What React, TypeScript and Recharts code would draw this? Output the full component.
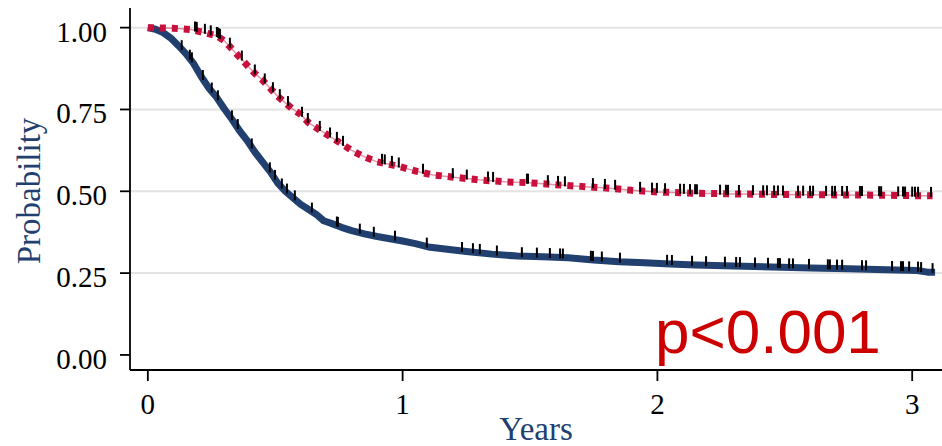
import {
  ComposedChart,
  Line,
  Scatter,
  XAxis,
  YAxis,
  ReferenceLine,
} from "recharts";

// survival estimates (time in years)
const navyTimes = [
  0, 0.03, 0.06, 0.09, 0.12, 0.15, 0.18, 0.21, 0.24, 0.27, 0.3, 0.33, 0.36, 0.39,
  0.42, 0.45, 0.48, 0.51, 0.54, 0.57, 0.6, 0.63, 0.66, 0.69, 0.72, 0.76, 0.8, 0.85,
  0.9, 0.95, 1.0, 1.05, 1.1, 1.15, 1.25, 1.35, 1.45, 1.55, 1.65, 1.75, 1.85, 1.95,
  2.05, 2.15, 2.3, 2.45, 2.6, 2.75, 2.9, 3.02, 3.06, 3.09,
];
const navySurv = [
  1.0, 0.995, 0.985, 0.968, 0.945, 0.92, 0.89, 0.85, 0.815, 0.787, 0.752, 0.72, 0.685,
  0.655, 0.62, 0.59, 0.56, 0.525, 0.5, 0.48, 0.46, 0.445, 0.43, 0.41, 0.402, 0.39,
  0.38, 0.37, 0.362, 0.355, 0.348, 0.34, 0.33, 0.325, 0.316, 0.308, 0.302, 0.3,
  0.297, 0.29, 0.285, 0.282, 0.278, 0.275, 0.272, 0.269, 0.266, 0.263, 0.26, 0.258,
  0.253, 0.253,
];

const redTimes = [
  0, 0.1, 0.17, 0.22, 0.27, 0.3, 0.33, 0.36, 0.39, 0.42, 0.45, 0.48, 0.51, 0.54,
  0.57, 0.6, 0.63, 0.66, 0.69, 0.72, 0.76, 0.8, 0.85, 0.9, 0.95, 1.0, 1.06, 1.12,
  1.2, 1.3, 1.4, 1.5, 1.6, 1.7, 1.8, 1.9, 2.0, 2.15, 2.3, 2.5, 2.7, 2.9, 3.05, 3.08,
];
const redSurv = [
  1.0, 0.998, 0.994, 0.985, 0.975, 0.96, 0.935, 0.91, 0.885, 0.86, 0.84, 0.815, 0.79,
  0.77, 0.75, 0.735, 0.71, 0.695, 0.68, 0.665, 0.645, 0.625, 0.605, 0.59, 0.582,
  0.573, 0.56, 0.55, 0.543, 0.535, 0.529, 0.526, 0.52, 0.515, 0.51, 0.503, 0.498,
  0.494, 0.492, 0.49, 0.489, 0.488, 0.486, 0.486,
];

// censoring times
const navyCensored = [
  0.133, 0.165, 0.173, 0.216, 0.251, 0.275, 0.33, 0.353, 0.408, 0.479, 0.499, 0.526,
  0.546, 0.577, 0.644, 0.742, 0.746, 0.832, 0.887, 0.97, 1.095, 1.233, 1.276, 1.303,
  1.37, 1.468, 1.527, 1.578, 1.618, 1.629, 1.739, 1.747, 1.782, 1.853, 2.038, 2.057,
  2.136, 2.191, 2.265, 2.309, 2.324, 2.383, 2.434, 2.473, 2.481, 2.517, 2.532, 2.595,
  2.669, 2.677, 2.705, 2.725, 2.803, 2.819, 2.921, 2.956, 2.964, 2.988, 3.023, 3.035,
  3.08,
];
const redCensored = [
  0.185, 0.192, 0.224, 0.247, 0.271, 0.275, 0.279, 0.283, 0.322, 0.369, 0.42, 0.459,
  0.491, 0.518, 0.55, 0.605, 0.628, 0.675, 0.715, 0.742, 0.766, 0.919, 0.93, 0.958,
  0.985, 1.08, 1.197, 1.252, 1.335, 1.355, 1.488, 1.492, 1.57, 1.61, 1.637, 1.747,
  1.794, 1.834, 1.932, 1.979, 1.998, 2.03, 2.089, 2.104, 2.128, 2.148, 2.155, 2.246,
  2.269, 2.277, 2.32, 2.375, 2.415, 2.43, 2.458, 2.473, 2.493, 2.552, 2.572, 2.599,
  2.611, 2.662, 2.686, 2.697, 2.725, 2.744, 2.795, 2.803, 2.87, 2.878, 2.945, 2.964,
  2.972, 3.0, 3.011, 3.023, 3.074,
];

const xTicks = [0, 1, 2, 3];
const yTicks = [0, 0.25, 0.5, 0.75, 1];
const gridValues = [0.25, 0.5, 0.75, 1];

const NAVY = "#22406f";
const RED = "#c8103c";
const serif = "Liberation Serif, Times New Roman, serif";

const toSeries = (times: number[], surv: number[]) =>
  times.map((t, i) => ({ t, s: surv[i] }));

const valueAt = (times: number[], surv: number[], t: number) => {
  for (let i = 1; i < times.length; i++) {
    if (t <= times[i]) {
      const f = (t - times[i - 1]) / (times[i] - times[i - 1]);
      return surv[i - 1] + f * (surv[i] - surv[i - 1]);
    }
  }
  return surv[surv.length - 1];
};

const navyData = toSeries(navyTimes, navySurv);
const redData = toSeries(redTimes, redSurv);
const navyMarks = navyCensored.map((t) => ({ t, s: valueAt(navyTimes, navySurv, t) }));
const redMarks = redCensored.map((t) => ({ t, s: valueAt(redTimes, redSurv, t) }));

const CensorTick = (props: any) => {
  const { cx, cy } = props;
  if (cx == null || cy == null) return null;
  return <line x1={cx} x2={cx} y1={cy - 9} y2={cy + 1} stroke="#000" strokeWidth={2} />;
};

const YTick = (props: any) => {
  const { x, y, payload } = props;
  return (
    <text x={x} y={y + 4} textAnchor="end" dominantBaseline="central" fontFamily={serif} fontSize={29} fill="#000">
      {Number(payload.value).toFixed(2)}
    </text>
  );
};

export default function App() {
  return (
    <div style={{ position: "absolute", left: 0, top: 0, width: 942, height: 446, overflow: "hidden", background: "#fff" }}>
      <ComposedChart width={942} height={446} margin={{ top: 8, right: 0, left: 0, bottom: 0 }}>
        <XAxis
          type="number"
          dataKey="t"
          domain={[-0.07, 3.117]}
          allowDataOverflow
          ticks={xTicks}
          height={76}
          tickSize={11}
          tickMargin={12}
          stroke="#000"
          strokeWidth={1.8}
          tick={{ fontFamily: serif, fontSize: 29, fill: "#000" }}
        />
        <XAxis xAxisId="top" orientation="top" type="number" domain={[0, 1]} height={0} tick={false} tickLine={false} stroke="#000" strokeWidth={1.8} />
        <YAxis
          type="number"
          dataKey="s"
          domain={[-0.046, 1.06]}
          allowDataOverflow
          ticks={yTicks}
          width={130}
          tickSize={10}
          tickMargin={13}
          stroke="#000"
          strokeWidth={1.8}
          tick={<YTick />}
        />
        {gridValues.map((v) => (
          <ReferenceLine key={v} y={v} stroke="#e3e3e3" strokeWidth={2} />
        ))}
        <Line
          data={navyData}
          dataKey="s"
          type="linear"
          stroke={NAVY}
          strokeWidth={7}
          strokeLinejoin="round"
          dot={false}
          activeDot={false}
          isAnimationActive={false}
        />
        <Line
          data={redData}
          dataKey="s"
          type="linear"
          stroke={RED}
          strokeOpacity={0.45}
          strokeWidth={1.5}
          dot={false}
          activeDot={false}
          isAnimationActive={false}
        />
        <Line
          data={redData}
          dataKey="s"
          type="linear"
          stroke={RED}
          strokeWidth={7}
          strokeDasharray="6 6"
          dot={false}
          activeDot={false}
          isAnimationActive={false}
        />
        <Scatter data={navyMarks} dataKey="s" shape={<CensorTick />} isAnimationActive={false} />
        <Scatter data={redMarks} dataKey="s" shape={<CensorTick />} isAnimationActive={false} />
      </ComposedChart>
      <svg width={942} height={446} style={{ position: "absolute", left: 0, top: 0, pointerEvents: "none" }}>
        <text x={536} y={440} textAnchor="middle" fontFamily={serif} fontSize={33} fill={NAVY}>
          Years
        </text>
        <text
          x={40}
          y={191}
          textAnchor="middle"
          transform="rotate(-90, 40, 191)"
          fontFamily={serif}
          fontSize={33}
          fill={NAVY}
        >
          Probability
        </text>
        <text x={655} y={353} fontFamily="Liberation Sans, Arial, sans-serif" fontSize={62} fill="#cc0000">
          p&lt;0.001
        </text>
      </svg>
    </div>
  );
}
